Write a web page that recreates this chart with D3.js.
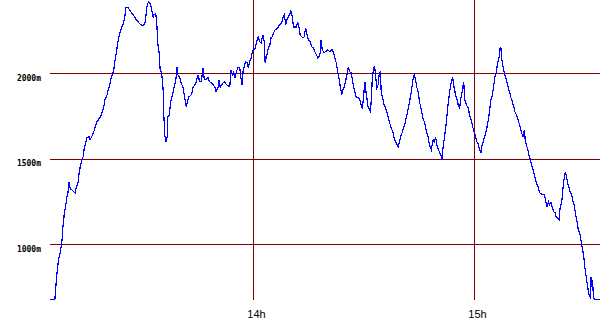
<!DOCTYPE html>
<html>
<head>
<meta charset="utf-8">
<script src="https://cdn.jsdelivr.net/npm/d3@7"></script>
<style>
  body { margin: 0; background: #fff; }
  svg { display: block; }
</style>
</head>
<body>
<script>
// minutes after 13:00
const minutes = [
  4.8, 6.2, 6.4, 6.8, 7.2, 7.7, 8.1, 8.4, 8.8, 9.1, 9.5, 9.8, 10.0, 10.4, 10.8, 11.3, 11.7, 12.0, 12.5, 12.8,
  13.1, 13.5, 13.9, 14.2, 14.6, 14.9, 15.5, 15.8, 16.2, 16.7, 17.1, 17.5, 18.0, 18.6, 19.1, 19.5, 19.8, 20.4, 20.7, 21.1,
  21.5, 21.8, 22.2, 22.5, 22.9, 23.3, 23.6, 24.0, 24.3, 24.7, 25.2, 25.4, 26.1, 26.5, 27.0, 27.4, 27.9, 28.3, 28.8, 29.2,
  30.0, 30.6, 30.9, 31.2, 31.6, 32.0, 32.4, 32.9, 33.1, 33.6, 33.9, 34.1, 34.5, 34.8, 35.2, 35.6, 35.8, 36.1, 36.4, 36.7,
  36.9, 37.3, 37.6, 37.9, 38.3, 38.6, 39.0, 39.4, 39.6, 40.1, 40.5, 41.0, 41.4, 41.9, 42.3, 42.6, 43.3, 43.7, 44.2, 44.6,
  45.1, 45.5, 46.0, 46.4, 46.8, 47.3, 47.8, 48.2, 48.7, 49.1, 49.6, 50.0, 50.5, 50.8, 51.1, 51.5, 51.9, 52.3, 52.8, 53.2,
  53.7, 54.0, 54.4, 54.7, 55.1, 55.5, 55.9, 56.4, 56.6, 57.0, 57.3, 57.7, 58.0, 58.4, 58.7, 59.1, 59.5, 59.8, 60.2, 60.5,
  60.9, 61.4, 61.8, 62.2, 62.7, 63.1, 63.3, 63.8, 64.2, 64.5, 64.9, 65.2, 65.6, 66.0, 66.3, 66.7, 67.1, 67.4, 67.8, 68.1,
  68.5, 68.9, 69.2, 69.6, 69.9, 70.3, 70.7, 71.0, 71.4, 71.8, 72.1, 72.5, 72.8, 73.2, 73.6, 73.9, 74.3, 74.7, 75.0, 75.6,
  75.9, 76.3, 76.8, 77.2, 77.6, 77.9, 78.3, 78.5, 78.8, 79.3, 79.7, 80.3, 80.8, 81.5, 81.9, 82.2, 82.6, 83.0, 83.3, 83.7,
  84.1, 84.4, 84.8, 85.1, 85.5, 85.9, 86.2, 86.6, 87.0, 87.3, 87.7, 88.0, 88.5, 89.0, 89.3, 89.7, 90.0, 90.4, 90.7, 90.9,
  91.2, 91.6, 91.9, 92.2, 92.4, 92.7, 93.0, 93.3, 93.6, 94.0, 94.3, 94.6, 94.8, 95.3, 95.6, 96.0, 96.4, 96.7, 97.1, 97.5,
  98.0, 98.4, 98.9, 99.4, 99.7, 100.1, 100.5, 100.9, 101.3, 101.6, 102.1, 102.5, 103.0, 103.4, 103.8, 104.1, 104.5, 104.9, 105.2, 105.7,
  106.1, 106.6, 107.0, 107.5, 107.9, 108.4, 108.9, 109.2, 109.6, 109.9, 110.3, 110.7, 111.0, 111.3, 111.6, 112.0, 112.5, 112.9, 113.4, 113.8,
  114.2, 114.6, 115.0, 115.4, 115.7, 116.1, 116.5, 116.8, 117.2, 117.5, 117.9, 118.4, 118.8, 119.3, 119.7, 120.1, 120.4, 120.8, 121.2, 121.5,
  121.9, 122.2, 122.4, 122.8, 123.2, 123.5, 123.9, 124.2, 124.6, 125.0, 125.3, 125.7, 126.1, 126.4, 126.8, 127.1, 127.3, 127.5, 127.9, 128.2,
  128.6, 129.0, 129.3, 129.7, 130.0, 130.4, 130.8, 131.1, 131.5, 131.8, 132.2, 132.6, 132.9, 133.3, 133.7, 133.9, 134.2, 134.6, 134.9, 135.3,
  135.6, 136.0, 136.4, 136.7, 137.1, 137.5, 137.8, 138.3, 138.7, 139.1, 139.4, 139.8, 140.2, 140.5, 140.9, 141.3, 141.6, 142.0, 142.3, 142.7,
  143.1, 143.4, 143.8, 144.2, 144.5, 144.8, 145.1, 145.4, 145.8, 146.1, 146.5, 146.9, 147.2, 147.6, 148.0, 148.3, 148.7, 149.0, 149.4, 149.8,
  150.1, 150.5, 150.9, 151.2, 151.5, 151.8, 152.0, 152.2, 152.4, 152.7, 154.1
];

// altitude in metres
const altitudes = [
  674, 674, 733, 832, 908, 955, 1008, 1101, 1183, 1218, 1277, 1306, 1364, 1322, 1318, 1306, 1300, 1329, 1359, 1417,
  1452, 1493, 1511, 1563, 1592, 1622, 1628, 1610, 1628, 1651, 1680, 1709, 1727, 1745, 1774, 1803, 1844, 1873, 1902, 1932,
  1973, 1990, 2019, 2066, 2119, 2177, 2212, 2242, 2265, 2283, 2323, 2382, 2382, 2370, 2353, 2341, 2329, 2312, 2300, 2288,
  2277, 2283, 2329, 2388, 2417, 2411, 2382, 2323, 2341, 2347, 2283, 2183, 2119, 2019, 2002, 1902, 1745, 1628, 1598, 1628,
  1745, 1756, 1826, 1856, 1885, 1920, 1949, 2037, 1990, 1973, 1943, 1914, 1861, 1803, 1844, 1861, 1873, 1914, 1932, 1949,
  1990, 1949, 1949, 2031, 1961, 1961, 1973, 1949, 1943, 1932, 1920, 1891, 1914, 1961, 1914, 1932, 1943, 1949, 1932, 1926,
  1920, 2019, 1990, 2002, 1973, 2008, 2031, 2031, 1990, 1932, 2008, 2049, 2066, 2060, 2031, 2066, 2089, 2119, 2148, 2136,
  2177, 2212, 2183, 2177, 2224, 2177, 2060, 2107, 2154, 2154, 2206, 2212, 2236, 2253, 2253, 2265, 2277, 2283, 2294, 2323,
  2341, 2283, 2312, 2329, 2341, 2364, 2323, 2265, 2271, 2265, 2300, 2265, 2224, 2212, 2206, 2212, 2265, 2224, 2195, 2183,
  2154, 2148, 2125, 2107, 2089, 2095, 2119, 2195, 2136, 2119, 2125, 2136, 2126, 2136, 2119, 2089, 2060, 2008, 1973, 1920,
  1873, 1902, 1920, 1949, 1990, 2037, 2008, 2002, 1961, 1920, 1885, 1861, 1856, 1844, 1815, 1791, 1861, 1949, 1885, 1861,
  1803, 1786, 1774, 1873, 1978, 2019, 2043, 1978, 1914, 1932, 2002, 2008, 1891, 1844, 1815, 1797, 1768, 1739, 1709, 1680,
  1651, 1610, 1592, 1569, 1592, 1628, 1651, 1680, 1709, 1739, 1786, 1832, 1891, 1961, 1990, 1961, 1914, 1885, 1832, 1786,
  1739, 1709, 1668, 1628, 1581, 1552, 1610, 1598, 1622, 1581, 1552, 1534, 1522, 1493, 1563, 1628, 1715, 1803, 1891, 1943,
  1973, 1914, 1873, 1844, 1815, 1797, 1861, 1891, 1949, 1844, 1815, 1797, 1756, 1717, 1680, 1651, 1628, 1598, 1581, 1552,
  1534, 1581, 1592, 1622, 1651, 1680, 1727, 1774, 1844, 1873, 1920, 1978, 2008, 2060, 2089, 2148, 2148, 2089, 2037, 2002,
  1973, 1943, 1914, 1885, 1856, 1832, 1803, 1774, 1756, 1739, 1709, 1680, 1651, 1628, 1668, 1610, 1581, 1552, 1522, 1493,
  1464, 1435, 1405, 1376, 1347, 1329, 1300, 1294, 1288, 1288, 1259, 1218, 1247, 1230, 1241, 1212, 1189, 1183, 1160, 1154,
  1142, 1218, 1241, 1335, 1388, 1423, 1394, 1359, 1329, 1306, 1288, 1247, 1230, 1171, 1130, 1084, 1066, 1025, 979, 926,
  861, 803, 744, 704, 692, 809, 750, 791, 692, 674, 674
];

const hourTicks = [14, 15];
const altTicks = [1000, 1500, 2000];

const width = 600;
const height = 330;
const base = new Date(2000, 0, 1, 13, 0, 0);
const toDate = m => new Date(base.getTime() + m * 60000);

const points = minutes.map((m, i) => ({ time: toDate(m), alt: altitudes[i] }));

const x = d3.scaleTime()
    .domain([toDate(60), toDate(120)])
    .range([253, 474]);
const y = d3.scaleLinear()
    .domain([1000, 2000])
    .range([244, 73]);

const svg = d3.select("body").append("svg")
    .attr("width", width)
    .attr("height", height);

svg.append("rect")
    .attr("width", width)
    .attr("height", height)
    .attr("fill", "#fff");

const xAxis = d3.axisBottom(x)
    .tickValues(hourTicks.map(h => toDate((h - 13) * 60)))
    .tickFormat(d3.timeFormat("%Hh"))
    .tickSizeInner(-300)
    .tickSizeOuter(0)
    .tickPadding(10);

const yAxis = d3.axisLeft(y)
    .tickValues(altTicks)
    .tickFormat(d => d + "m")
    .tickSizeInner(-550)
    .tickSizeOuter(0)
    .tickPadding(9);

const gx = svg.append("g")
    .attr("transform", "translate(0,300)")
    .call(xAxis);
gx.select(".domain").remove();
gx.selectAll("line").attr("stroke", "#800000").attr("shape-rendering", "crispEdges");
gx.selectAll("text")
    .attr("x", 3)
    .attr("fill", "#000")
    .style("font", "11px 'Liberation Sans', Arial, sans-serif");

const gy = svg.append("g")
    .attr("transform", "translate(50,0)")
    .call(yAxis);
gy.select(".domain").remove();
gy.selectAll("line").attr("stroke", "#800000").attr("shape-rendering", "crispEdges");
gy.selectAll("text")
    .attr("dy", 7)
    .attr("fill", "#000")
    .style("font", "bold 8px 'DejaVu Sans Mono', monospace");

const line = d3.line()
    .x(d => x(d.time))
    .y(d => y(d.alt));

// aliased trace, like the original bitmap
svg.append("path")
    .datum(points)
    .attr("d", line)
    .attr("fill", "none")
    .attr("stroke", "#0000ff")
    .attr("stroke-width", 1.2)
    .attr("shape-rendering", "crispEdges");
</script>
</body>
</html>
